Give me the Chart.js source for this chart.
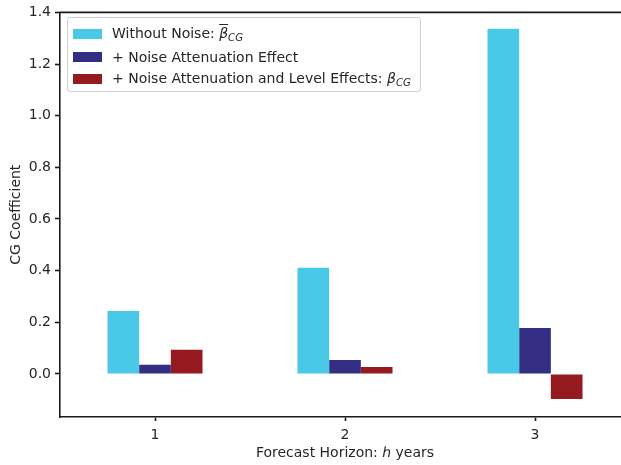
<!DOCTYPE html>
<html>
<head>
<meta charset="utf-8">
<script src="https://cdn.jsdelivr.net/npm/chart.js@4.4.1/dist/chart.umd.min.js"></script>
<style>
  html, body { margin: 0; padding: 0; background: #fff; overflow: hidden; }
  #wrap { position: relative; width: 640px; height: 465px; }
  #legend {
    position: absolute; left: 67px; top: 17px; width: 354px; height: 75px;
    border: 1px solid #d0d0d0; border-radius: 3px; background: rgba(255,255,255,0.8);
    font-family: "DejaVu Sans", sans-serif; font-size: 14px; color: #262626;
    box-sizing: border-box;
  }
  #legend .row { position: absolute; left: 5px; height: 20px; display: flex; align-items: center; white-space: nowrap; }
  #legend .swatch { width: 29px; height: 10px; margin-right: 10px; }
  #legend .ov { text-decoration: overline; font-style: italic; }
  #legend i { font-style: italic; }
  #legend sub { font-size: 0.72em; font-style: italic; vertical-align: -3px; }
</style>
</head>
<body>
<div id="wrap">
  <canvas id="chart" width="640" height="465"></canvas>
  <div id="legend"></div>
</div>
<script>
const horizons = ["1", "2", "3"];
const withoutNoise = [0.244, 0.411, 1.337];
const attenuation = [0.035, 0.054, 0.178];
const levelEffects = [0.093, 0.027, -0.097];
const yTicks = [0.0, 0.2, 0.4, 0.6, 0.8, 1.0, 1.2, 1.4];

const seriesNames = [
  "Without Noise: β̄_CG",
  "+ Noise Attenuation Effect",
  "+ Noise Attenuation and Level Effects: β_CG"
];
const seriesLegendHtml = [
  'Without Noise: <span class="ov">β</span><sub>CG</sub>',
  "+ Noise Attenuation Effect",
  '+ Noise Attenuation and Level Effects: <i>β</i><sub>CG</sub>'
];
const seriesColors = ["#49c8e8", "#332e83", "#941a1f"];

const textColor = "#262626";
const axisColor = "#1a1a1a";
const font = { family: "DejaVu Sans", size: 14 };

const topSpine = {
  id: "topSpine",
  afterDraw(chart) {
    const { ctx, chartArea } = chart;
    ctx.save();
    ctx.strokeStyle = axisColor;
    ctx.lineWidth = 1.6;
    ctx.beginPath();
    ctx.moveTo(chartArea.left - 0.8, chartArea.top);
    ctx.lineTo(chartArea.right, chartArea.top);
    ctx.stroke();
    ctx.restore();
  }
};

const chart = new Chart(document.getElementById("chart").getContext("2d"), {
  type: "bar",
  data: {
    labels: horizons,
    datasets: [withoutNoise, attenuation, levelEffects].map((values, i) => ({
      label: seriesNames[i],
      data: values,
      backgroundColor: seriesColors[i],
      borderWidth: 0,
      categoryPercentage: 0.5,
      barPercentage: 1.0
    }))
  },
  options: {
    responsive: false,
    animation: false,
    layout: { padding: { top: 11, right: 10, left: 0, bottom: 0 } },
    plugins: {
      legend: { display: false },
      tooltip: { enabled: false }
    },
    scales: {
      x: {
        afterFit(scale) { scale.height = 48; },
        grid: {
          offset: false,
          drawOnChartArea: false,
          drawTicks: true,
          tickLength: 4,
          tickWidth: 1.6,
          tickColor: axisColor
        },
        border: { display: true, color: axisColor, width: 1.6 },
        ticks: { color: textColor, font, padding: 6 },
        title: {
          display: true,
          text: "Forecast Horizon: ℎ years",
          color: textColor,
          font,
          padding: { top: 0, bottom: 3 }
        }
      },
      y: {
        min: -0.167,
        max: 1.4,
        afterFit(scale) { scale.width = 60; },
        afterBuildTicks(scale) {
          scale.ticks = yTicks.map((v) => ({ value: v }));
        },
        grid: {
          drawOnChartArea: false,
          drawTicks: true,
          tickLength: 5,
          tickWidth: 1.6,
          tickColor: axisColor
        },
        border: { display: true, color: axisColor, width: 1.6 },
        ticks: {
          color: textColor,
          font,
          padding: 4,
          callback: (value) => Number(value).toFixed(1)
        },
        title: {
          display: true,
          text: "CG Coefficient",
          color: textColor,
          font,
          padding: { top: 8, bottom: 2 }
        }
      }
    }
  },
  plugins: [topSpine]
});

const legend = document.getElementById("legend");
legend.innerHTML = seriesLegendHtml
  .map(
    (html, i) => `
      <div class="row" style="top:${6 + i * 22.5}px">
        <span class="swatch" style="background:${seriesColors[i]}"></span>
        <span>${html}</span>
      </div>`
  )
  .join("");
</script>
</body>
</html>
